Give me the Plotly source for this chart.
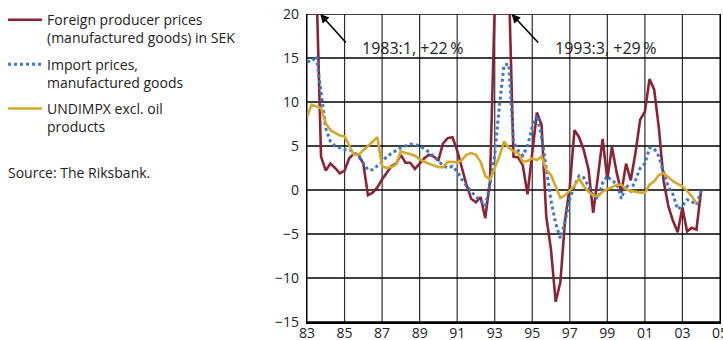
import plotly.graph_objects as go
import pandas as pd

# Quarterly observations 1983:1 - 2004:1 (annual percentage change)
quarters = pd.date_range("1983-01-01", periods=85, freq="QS")

foreign_ppi = [
    22, 25, 24, 3.8, 2.2, 3.0, 2.5, 1.9, 2.2, 3.6,
    4.1, 4.0, 3.0, -0.6, -0.3, 0.3, 1.2, 2.0, 2.7, 3.0,
    4.0, 3.1, 3.1, 2.4, 3.0, 3.6, 4.0, 3.8, 3.4, 5.3,
    5.9, 6.0, 4.5, 2.6, 0.6, -1.0, -1.4, -0.8, -3.2, 1.0,
    21, 26, 29, 24, 3.8, 3.7, 2.8, -0.5, 4.5, 8.8,
    7.4, -3.0, -6.8, -12.7, -10.5, -3.4, 0.4, 6.8, 6.0, 4.5,
    2.3, -2.6, 1.5, 5.8, 1.2, 4.9, 2.0, -0.3, 3.0, 1.1,
    4.2, 8.0, 8.9, 12.6, 11.4, 7.0, 1.0, -1.8, -3.5, -4.8,
    -2.0, -4.7, -4.3, -4.5, 0.0,
]

import_prices = [
    14.6, 14.6, 15.2, 11.0, 7.0, 5.5, 5.0, 4.8, 4.6, 4.6,
    4.3, 3.8, 3.1, 2.3, 2.3, 2.7, 3.2, 3.8, 4.2, 4.5,
    4.8, 5.0, 5.2, 5.2, 4.9, 4.7, 4.3, 3.8, 3.2, 2.8,
    2.5, 2.7, 2.1, 1.2, 0.5, -0.2, -0.8, -1.2, -1.8, 0.6,
    4.0, 9.5, 14.2, 14.3, 5.5, 4.5, 3.9, 5.0, 7.2, 8.5,
    6.0, 2.5, -1.2, -3.8, -5.5, -3.6, -1.0, 0.5, 1.6, 1.4,
    0.3, -0.6, -1.0, 0.8, 1.6, 1.0, 0.8, -1.0, 0.6, -0.1,
    1.1, 2.5, 3.0, 4.8, 4.7, 3.8, 2.0, 0.4, -0.5, -2.2,
    -1.8, -1.1, -1.3, -1.7, -0.1,
]

undimpx = [
    8.3, 9.7, 9.5, 9.3, 7.6, 6.8, 6.5, 6.2, 6.1, 5.0,
    4.0, 4.0, 4.5, 5.0, 5.5, 6.0, 2.7, 2.5, 2.6, 2.9,
    4.4, 4.2, 4.1, 3.9, 3.5, 3.2, 3.0, 2.8, 2.6, 2.6,
    3.2, 3.2, 3.1, 3.4, 4.0, 4.2, 4.0, 3.2, 1.6, 1.2,
    2.5, 3.8, 5.5, 4.8, 4.4, 4.2, 3.2, 3.3, 3.6, 3.4,
    3.8, 2.3, 1.7, 0.5, -0.9, -0.6, 0.0, 0.5, 1.3, 0.4,
    -0.2, -0.6, -0.7, -0.2, 0.1, 0.3, 0.6, 0.6, 0.1, -0.1,
    -0.2, -0.3, -0.3, 0.6, 1.0, 1.7, 1.9, 1.4, 1.0, 0.7,
    0.4, -0.1, -0.7, -1.5,
]

x_tick_years = list(range(1983, 2006, 2))
x_tick_dates = [pd.Timestamp(f"{y}-01-01") for y in x_tick_years]
x_tick_labels = [f"{y % 100:02d}" for y in x_tick_years]
y_ticks = [-15, -10, -5, 0, 5, 10, 15, 20]
x_range = [x_tick_dates[0], x_tick_dates[-1] + pd.Timedelta(hours=12)]
y_range = [y_ticks[0], y_ticks[-1]]

names = [
    "Foreign producer prices<br>(manufactured goods) in SEK",
    "Import prices,<br>manufactured goods",
    "UNDIMPX excl. oil<br>products",
]

RED = "#8c2334"
BLUE = "#3b78c6"
GOLD = "#d6a82a"

fig = go.Figure()

# grid lines at the tick positions (drawn as line traces beneath the data)
gx, gy = [], []
for d in x_tick_dates:
    gx += [d, d, None]
    gy += [y_range[0], y_range[1], None]
fig.add_trace(go.Scatter(x=gx, y=gy, mode="lines", showlegend=False, hoverinfo="skip",
                         line=dict(color="#2e2e2e", width=1.2)))
hx, hy = [], []
for v in y_ticks:
    hx += [x_range[0], x_range[1], None]
    hy += [v, v, None]
fig.add_trace(go.Scatter(x=hx, y=hy, mode="lines", showlegend=False, hoverinfo="skip",
                         line=dict(color="black", width=1.3)))

fig.add_trace(go.Scatter(x=quarters[:len(foreign_ppi)], y=foreign_ppi, mode="lines",
                         name=names[0], legendgroup="a",
                         line=dict(color=RED, width=2.6)))
fig.add_trace(go.Scatter(x=quarters[:len(import_prices)], y=import_prices, mode="lines",
                         name=names[1], legendgroup="b",
                         line=dict(color=BLUE, width=3, dash="dot")))
fig.add_trace(go.Scatter(x=quarters[:len(undimpx)], y=undimpx, mode="lines",
                         name=names[2], legendgroup="c",
                         line=dict(color=GOLD, width=2.6)))

font = "Open Sans, Noto Sans, DejaVu Sans, sans-serif"

fig.update_layout(
    template="none",
    width=723, height=340,
    margin=dict(l=307, r=3, t=14, b=18, autoexpand=False),
    paper_bgcolor="white", plot_bgcolor="white",
    font=dict(family=font, size=14, color="#222"),
    showlegend=True,
    legend=dict(x=-0.736, xanchor="left", y=1.032, yanchor="top",
                font=dict(size=14, color="#222"), valign="top",
                traceorder="grouped", tracegroupgap=5,
                bgcolor="rgba(0,0,0,0)", itemwidth=34),
    xaxis=dict(type="date", range=x_range,
               tickmode="array", tickvals=x_tick_dates, ticktext=x_tick_labels,
               showgrid=False, showline=True, linecolor="black", linewidth=1.8,
               ticks="", ticklabelstandoff=-3, ticklabeloverflow="allow",
               tickfont=dict(size=14), zeroline=False),
    yaxis=dict(range=y_range, tickmode="array", tickvals=y_ticks,
               showgrid=False, showline=True, linecolor="black", linewidth=1.2,
               mirror=True,
               ticks="outside", ticklen=4, tickcolor="rgba(0,0,0,0)",
               tickfont=dict(size=14), zeroline=False),
)

# (head x, head y, arrow tail offset px, text, text offset px)
annots = [
    ("1983-09-15", 20, 27, 30, "1983:1, +22\u2009%", 40),
    ("1993-11-25", 20, 28, 30, "1993:3, +29\u2009%", 41),
]
for xd, yv, ax, ay, txt, tx in annots:
    fig.add_annotation(x=xd, y=yv, ax=ax, ay=ay, text="", showarrow=True,
                       arrowhead=2, arrowsize=1.1, arrowwidth=1.6, arrowcolor="black",
                       standoff=0, xref="x", yref="y")
    fig.add_annotation(x=xd, y=yv, text=txt, showarrow=False, xref="x", yref="y",
                       xanchor="left", yanchor="middle", xshift=tx, yshift=-34,
                       font=dict(size=16, color="#222"))

fig.add_annotation(text="Source: The Riksbank.", xref="paper", yref="paper",
                   x=-0.728, y=0.487, xanchor="left", yanchor="middle",
                   showarrow=False, font=dict(size=14, color="#222"))

fig.write_html("out.html", config={"displayModeBar": False},
               post_script="document.body.style.margin='0';")
